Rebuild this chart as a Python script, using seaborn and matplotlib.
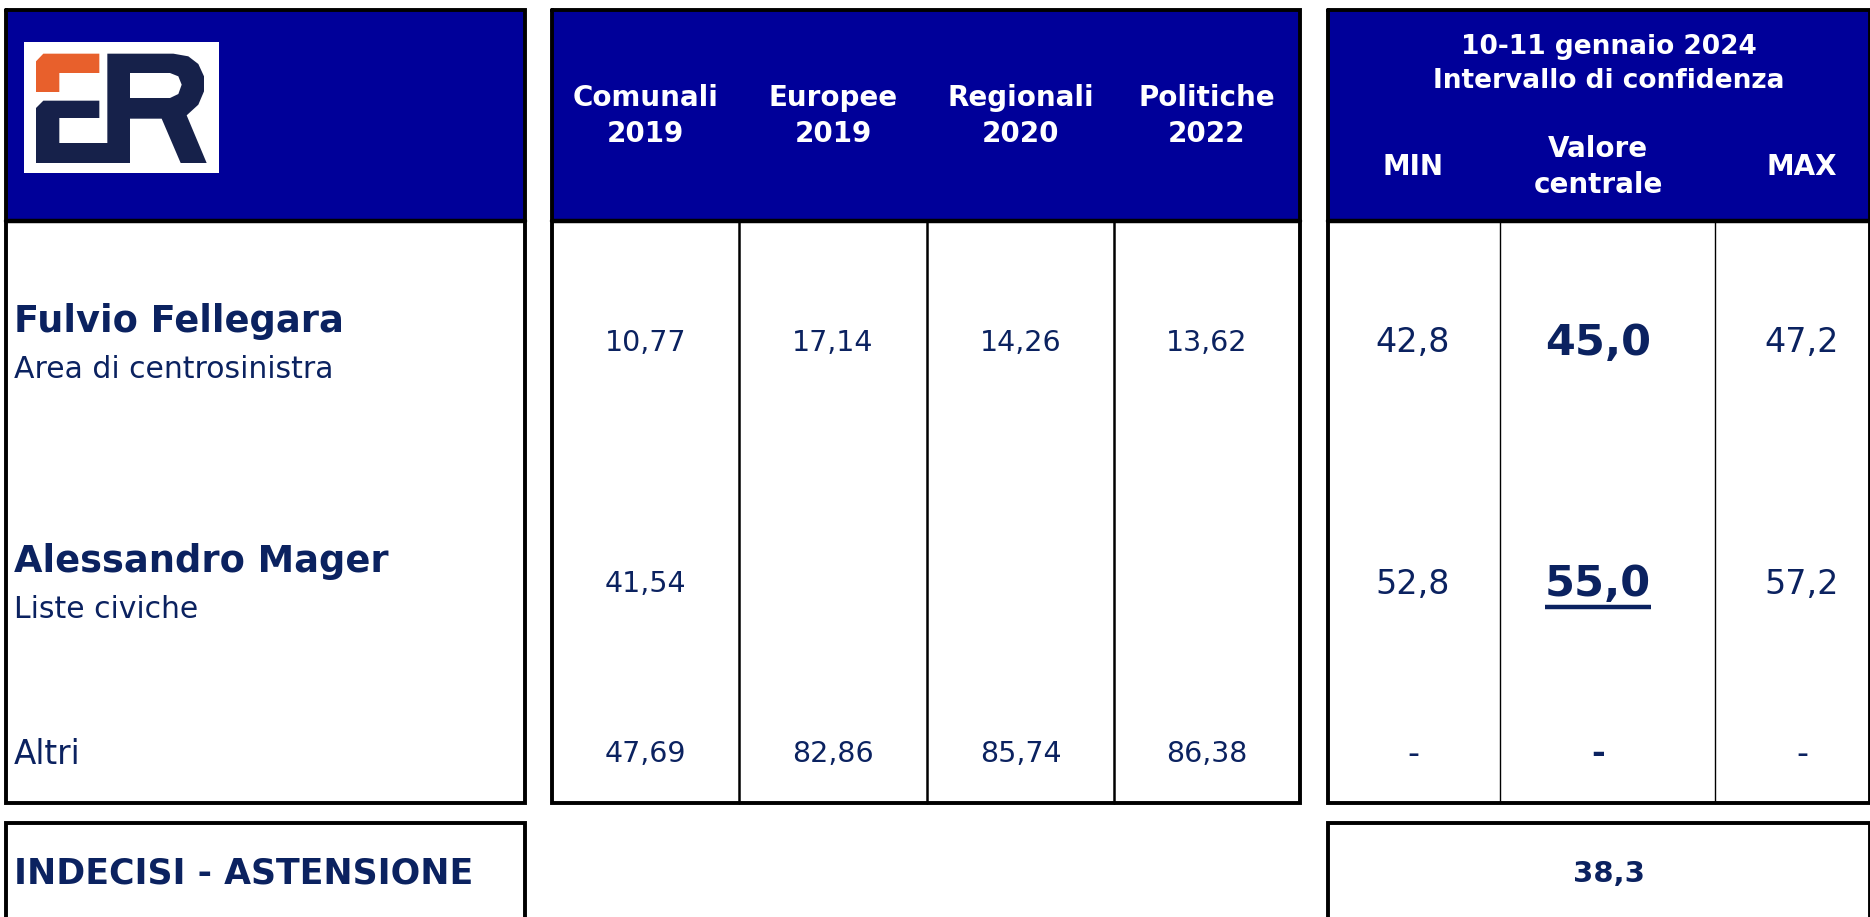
import numpy as np
import matplotlib
matplotlib.use("Agg")
import matplotlib.pyplot as plt
import seaborn as sns
from matplotlib.patches import Rectangle, Polygon

# dati del sondaggio
colonne = ["Comunali\n2019", "Europee\n2019", "Regionali\n2020", "Politiche\n2022"]
candidati = ["Fulvio Fellegara", "Alessandro Mager", "Altri"]
aree = ["Area di centrosinistra", "Liste civiche", ""]
comunali_2019 = [10.77, 41.54, 47.69]
europee_2019 = [17.14, None, 82.86]
regionali_2020 = [14.26, None, 85.74]
politiche_2022 = [13.62, None, 86.38]
ci_min = [42.8, 52.8, None]
ci_centrale = [45.0, 55.0, None]
ci_max = [47.2, 57.2, None]
intervallo_titolo = "10-11 gennaio 2024\nIntervallo di confidenza"
intervallo_colonne = ["MIN", "Valore\ncentrale", "MAX"]
indecisi_label = "INDECISI - ASTENSIONE"
indecisi = 38.3

sns.set_theme(style="white")
plt.rcParams['font.family'] = ['DejaVu Sans']

BLU = "#000099"
NAVY = "#0B2260"
W, H = 1870, 917

fig = plt.figure(figsize=(W / 100, H / 100), dpi=100)
ax = fig.add_axes([0, 0, 1, 1])
ax.set_xlim(0, W)
ax.set_ylim(H, 0)
ax.axis('off')


def fmt(v, dec):
    if v is None:
        return ""
    return f"{v:.{dec}f}".replace('.', ',')


# geometria della tabella
top, head_bot, body_bot = 10, 221, 803
left_panel = (6, 525)
mid_edges = [552, 739, 927, 1114, 1300]
right_edges = [1328, 1500, 1715, 1870]
right_centers = [1413, 1598, 1802]
right_mid = 1609
row_y = [343, 584, 754]
box_top = 823

# intestazioni blu e bordi
for x0, x1 in [left_panel, (mid_edges[0], mid_edges[-1]), (right_edges[0], right_edges[-1])]:
    ax.add_patch(Rectangle((x0, top), x1 - x0, head_bot - top, facecolor=BLU, edgecolor='none'))
    ax.plot([x0, x1, x1, x0, x0], [top, top, body_bot, body_bot, top], color='black', lw=2.8,
            solid_joinstyle='miter')
    ax.plot([x0, x1], [head_bot, head_bot], color='black', lw=3.2)

for x in mid_edges[1:-1]:
    ax.plot([x, x], [head_bot, body_bot], color='black', lw=1.8)
for x in right_edges[1:-1]:
    ax.plot([x, x], [head_bot, body_bot], color='black', lw=1.0)

# riquadri in basso
for x0, x1 in [left_panel, (right_edges[0], right_edges[-1])]:
    ax.plot([x0, x0, x1, x1], [H + 5, box_top, box_top, H + 5], color='black', lw=2.8,
            solid_joinstyle='miter')

# logo
ax.add_patch(Rectangle((24, 42), 195, 131, facecolor='white', edgecolor='none'))
ox, oy, s = 20, 38, 1 / 3


def pts(lst):
    return [(ox + x * s, oy + y * s) for x, y in lst]


ax.add_patch(Polygon(pts([(48, 70), (70, 47), (238, 47), (238, 105), (118, 105), (118, 162), (48, 162)]),
                     facecolor="#E8602C", edgecolor='none'))
ax.add_patch(Polygon(pts([(48, 210), (70, 188), (238, 188), (238, 240), (118, 240), (118, 315), (262, 315),
                          (262, 47), (460, 47), (505, 55), (535, 78), (552, 115), (552, 160), (535, 200),
                          (500, 232), (560, 375), (482, 375), (425, 242), (330, 242), (330, 375), (48, 375)]),
                     facecolor="#16214A", edgecolor='none'))
ax.add_patch(Polygon(pts([(330, 105), (450, 105), (475, 115), (485, 140), (475, 168), (450, 180), (330, 180)]),
                     facecolor='white', edgecolor='none'))

# testi intestazione
mid_centers = [(a + b) / 2 for a, b in zip(mid_edges[:-1], mid_edges[1:])]
for xc, lab in zip(mid_centers, colonne):
    ax.text(xc, 116, lab, ha='center', va='center', color='white', fontsize=20,
            fontweight='bold', linespacing=1.4)

ax.text(right_mid, 64, intervallo_titolo, ha='center', va='center',
        color='white', fontsize=19, fontweight='bold', linespacing=1.35)
for xc, lab in zip(right_centers, intervallo_colonne):
    ax.text(xc, 167, lab, ha='center', va='center', color='white', fontsize=20,
            fontweight='bold', linespacing=1.35)

# righe dei candidati
for i, (nome, area) in enumerate(zip(candidati, aree)):
    y = row_y[i]
    if area:
        ax.text(14, y - 22, nome, ha='left', va='center', color=NAVY, fontsize=26.5, fontweight='bold')
        ax.text(14, y + 26, area, ha='left', va='center', color=NAVY, fontsize=21.5)
    else:
        ax.text(14, y, nome, ha='left', va='center', color=NAVY, fontsize=23.5)

    storici = [comunali_2019[i], europee_2019[i], regionali_2020[i], politiche_2022[i]]
    for xc, v in zip(mid_centers, storici):
        ax.text(xc, y, fmt(v, 2), ha='center', va='center', color=NAVY, fontsize=20.5)

    for j, (xc, v) in enumerate(zip(right_centers, [ci_min[i], ci_centrale[i], ci_max[i]])):
        bold = j == 1
        lab = fmt(v, 1) if v is not None else "-"
        t = ax.text(xc, y, lab, ha='center', va='center', color=NAVY,
                    fontsize=31 if (bold and v is not None) else 24,
                    fontweight='bold' if bold else 'normal')
        if bold and i == 1:
            fig.canvas.draw()
            bb = t.get_window_extent().transformed(ax.transData.inverted())
            ax.plot([bb.x0, bb.x1], [y + 23, y + 23], color=NAVY, lw=3.2, solid_capstyle='butt')

# indecisi
ax.text(14, 874, indecisi_label, ha='left', va='center', color=NAVY, fontsize=25, fontweight='bold')
ax.text(right_mid, 874, fmt(indecisi, 1), ha='center', va='center',
        color=NAVY, fontsize=21, fontweight='bold')

fig.savefig("out.png", dpi=100, facecolor='white')
